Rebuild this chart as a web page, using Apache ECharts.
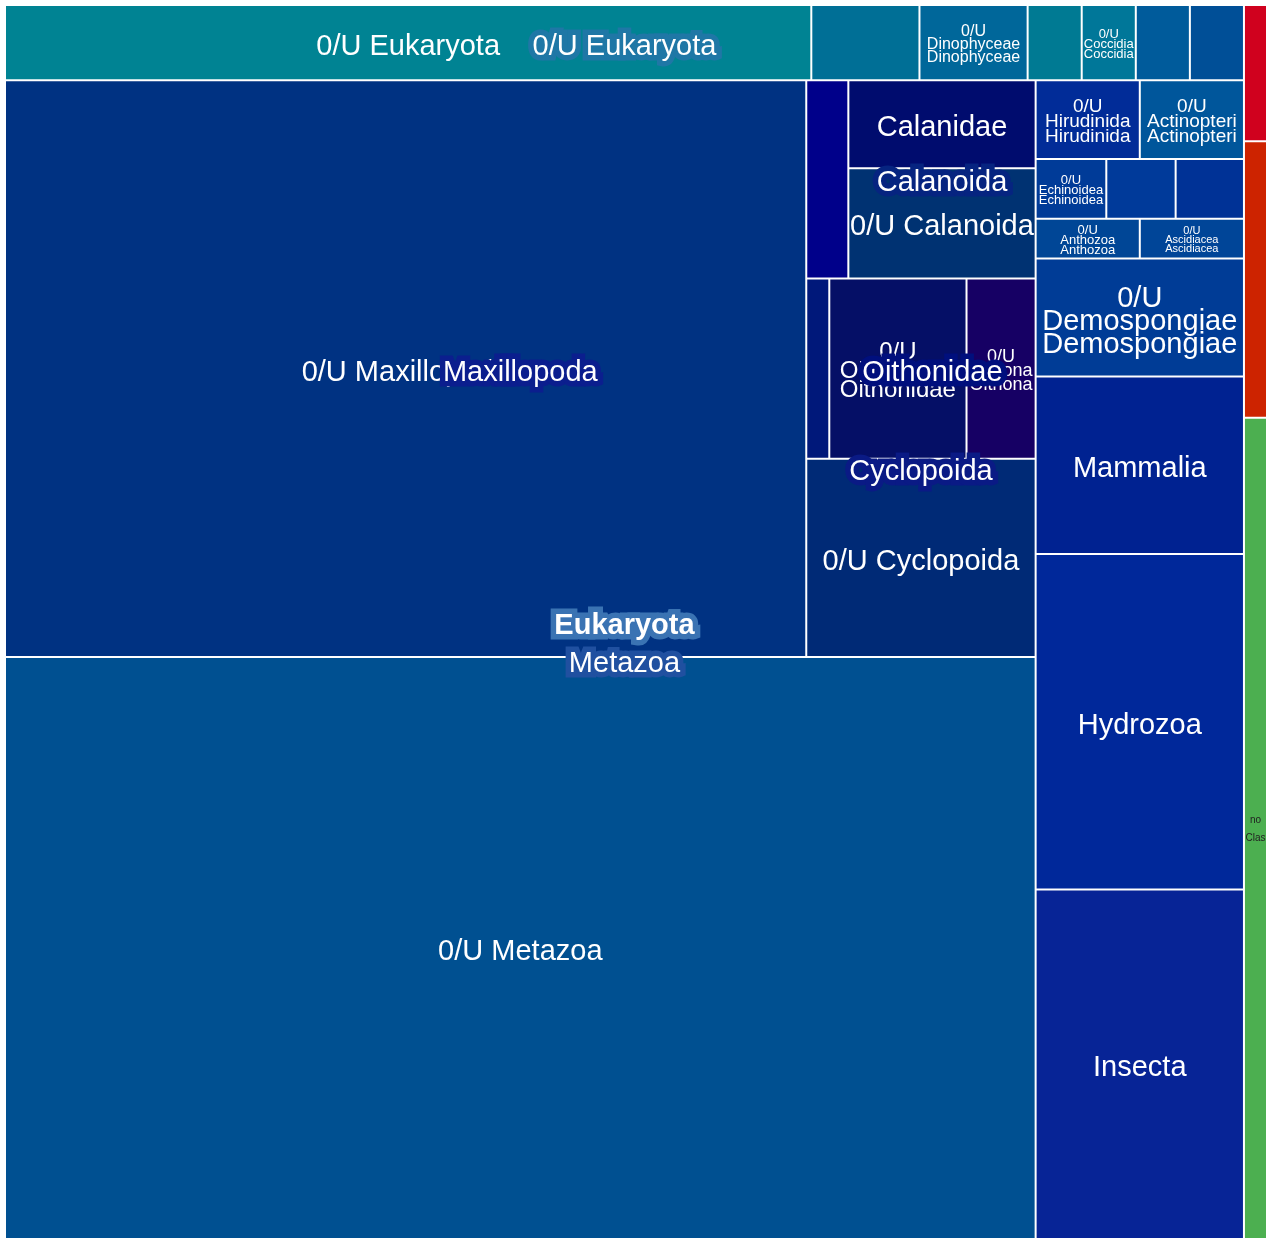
<!DOCTYPE html>
<html>
<head>
<meta charset="utf-8">
<title>Taxonomy treemap</title>
<script src="https://cdn.jsdelivr.net/npm/echarts@6/dist/echarts.min.js"></script>
<style>
  html, body { margin: 0; padding: 0; background: #fff; }
  #chart { width: 1266px; height: 1238px; }
</style>
</head>
<body>
<div id="chart"></div>
<script>
// each group keeps its children in display order, the treemap is not sorted
var kingdomNames = ["Eukaryota", "Bacteria", "Archaea", "no Classification"];
var kingdomValues = [null, 313, 635, 1886];

var eukaryotaNames = ["0/U Eukaryota", "Metazoa"];
var eukaryotaValues = [null, null];

var otherEukNames = ["0/U Eukaryota", "Other A", "Dinophyceae", "Other B", "Coccidia", "Other C", "Other D"];
var otherEukValues = [6038, 810, 810, 405, 405, 405, 405];

var metazoaNames = ["Maxillopoda", "0/U Metazoa", "Hirudinida", "Actinopteri", "Echinoidea", "Other E", "Other F",
  "Anthozoa", "Ascidiacea", "Demospongiae", "Mammalia", "Hydrozoa", "Insecta"];
var metazoaValues = [null, 59785, 819, 819, 421, 413, 407, 412, 412, 2454, 3682, 6968, 7259];

var maxillopodaNames = ["0/U Maxillopoda", "Other G", "Calanoida", "Cyclopoida"];
var maxillopodaValues = [46080, 832, null, null];

var calanoidaNames = ["Calanidae", "0/U Calanoida"];
var calanoidaValues = [1646, 2057];

var cyclopoidaNames = ["Other H", "Oithonidae", "0/U Cyclopoida"];
var cyclopoidaValues = [414, null, 4534];

var oithonidaeNames = ["0/U Oithonidae", "Oithona"];
var oithonidaeValues = [2466, 1242];

// taxa that only hold unresolved ("0/U") records
var unresolvedTaxa = ["Dinophyceae", "Coccidia", "Hirudinida", "Actinopteri", "Echinoidea",
  "Anthozoa", "Ascidiacea", "Demospongiae", "Oithona"];

var groups = {
  "Eukaryota": [eukaryotaNames, eukaryotaValues],
  "0/U Eukaryota": [otherEukNames, otherEukValues],
  "Metazoa": [metazoaNames, metazoaValues],
  "Maxillopoda": [maxillopodaNames, maxillopodaValues],
  "Calanoida": [calanoidaNames, calanoidaValues],
  "Cyclopoida": [cyclopoidaNames, cyclopoidaValues],
  "Oithonidae": [oithonidaeNames, oithonidaeValues]
};

// styles
var leafColors = {
  "0/U Eukaryota": "#008393", "Other A": "#006f96", "0/U Dinophyceae": "#00679a", "Other B": "#007a93",
  "0/U Coccidia": "#007799", "Other C": "#005b9b", "Other D": "#004f97",
  "0/U Maxillopoda": "#003282", "Other G": "#00008a", "Calanidae": "#000c6e", "0/U Calanoida": "#003272",
  "Other H": "#00187a", "0/U Oithonidae": "#050f66", "0/U Oithona": "#160064", "0/U Cyclopoida": "#002a76",
  "0/U Metazoa": "#005091", "0/U Hirudinida": "#012c98", "0/U Actinopteri": "#00569b",
  "0/U Echinoidea": "#003b98", "Other E": "#003a9a", "Other F": "#003296", "0/U Anthozoa": "#004696",
  "0/U Ascidiacea": "#004598", "0/U Demospongiae": "#003c96", "Mammalia": "#002291",
  "Hydrozoa": "#00289a", "Insecta": "#072496",
  "Bacteria": "#d0011e", "Archaea": "#cd2300", "no Classification": "#4caf50"
};
var labelSizes = {
  "0/U Dinophyceae": 16, "0/U Coccidia": 13, "0/U Hirudinida": 19, "0/U Echinoidea": 13,
  "0/U Actinopteri": 19, "0/U Anthozoa": 13, "0/U Ascidiacea": 11, "0/U Demospongiae": 29,
  "0/U Oithonidae": 24, "0/U Oithona": 18, "no Classification": 10
};
var stackedLabels = ["0/U Dinophyceae", "0/U Coccidia", "0/U Hirudinida", "0/U Echinoidea", "0/U Actinopteri",
  "0/U Anthozoa", "0/U Ascidiacea", "0/U Demospongiae", "0/U Oithonidae", "0/U Oithona"];
var hiddenLabels = ["Other A", "Other B", "Other C", "Other D", "Other E", "Other F", "Other G", "Other H",
  "Bacteria", "Archaea"];
var parentLabelBg = {
  "Eukaryota": "#3a73b3", "0/U Eukaryota": "#1f77a6", "Metazoa": "#2050a0", "Maxillopoda": "#0b1e8e",
  "Calanoida": "#062480", "Cyclopoida": "#0a1a85", "Oithonidae": "#000f7d"
};
var font = "'Liberation Sans', Arial, sans-serif";

function build(name, value) {
  if (value == null) {
    var g = groups[name];
    return { name: name, children: g[0].map(function(n, i) { return build(n, g[1][i]); }) };
  }
  if (unresolvedTaxa.indexOf(name) >= 0) {
    return { name: name, children: [{ name: "0/U " + name, value: value }] };
  }
  return { name: name, value: value };
}

function total(node) {
  if (!node.children) return node.value;
  return node.children.reduce(function(s, c) { return s + total(c); }, 0);
}

function styleBase(node) {
  if (node.children) {
    return { name: node.name, children: node.children.map(styleBase) };
  }
  var size = labelSizes[node.name] || 29;
  var stacked = stackedLabels.indexOf(node.name) >= 0;
  var label = {
    show: hiddenLabels.indexOf(node.name) < 0,
    fontSize: size,
    lineHeight: stacked ? Math.round(size * 0.8) : size + 4,
    offset: [0, Math.round(size * 0.13)]
  };
  if (node.name === "no Classification") {
    label.color = "#222";
    label.overflow = "truncate";
    label.ellipsis = "";
    label.lineHeight = 18;
  }
  return { name: node.name, value: node.value, itemStyle: { color: leafColors[node.name] }, label: label };
}

// copy of the tree cut at one depth, used to put parent names at parent centres
function prune(node, depth, target) {
  var copy = { name: node.name, value: total(node), itemStyle: { color: "rgba(0,0,0,0)" }, label: { show: false } };
  if (node.children) {
    if (depth < target) {
      copy.children = node.children.map(function(c) { return prune(c, depth + 1, target); });
    } else if (parentLabelBg[node.name]) {
      copy.label = {
        show: true,
        fontWeight: node.name === "Eukaryota" ? "bold" : "normal",
        textBorderColor: parentLabelBg[node.name],
        textBorderWidth: 11
      };
    }
  }
  return copy;
}

function leafText(p) {
  var name = p.name;
  if (name === "no Classification") return "no\nClassification";
  if (stackedLabels.indexOf(name) >= 0) {
    var base = name.replace("0/U ", "");
    return "0/U\n" + base + "\n" + base;
  }
  return name;
}

var tree = kingdomNames.map(function(n, i) { return build(n, kingdomValues[i]); });

function levels(border) {
  var out = [];
  for (var i = 0; i < 9; i++) {
    out.push({ itemStyle: { borderWidth: 0, gapWidth: 2, borderColor: border } });
  }
  return out;
}

var common = {
  type: "treemap",
  left: 6, top: 6, width: 1260, height: 1232,
  sort: false,
  squareRatio: 1.03,
  roam: false,
  nodeClick: false,
  breadcrumb: { show: false },
  upperLabel: { show: false }
};

var series = [Object.assign({}, common, {
  z: 2,
  levels: levels("#fff"),
  label: {
    show: true, position: "inside", padding: 0, overflow: "none",
    color: "#fff", fontFamily: font, fontSize: 29, formatter: leafText
  },
  data: tree.map(styleBase)
})];

for (var d = 1; d <= 5; d++) {
  series.push(Object.assign({}, common, {
    z: 10 + d,
    silent: true,
    levels: levels("rgba(0,0,0,0)"),
    itemStyle: { borderColor: "rgba(0,0,0,0)", color: "rgba(0,0,0,0)" },
    label: {
      show: true, position: "inside", padding: 0, overflow: "none",
      color: "#fff", fontFamily: font, fontSize: 29, lineHeight: 33, offset: [0, 4]
    },
    data: tree.map(function(n) { return prune(n, 1, d); })
  }));
}

var chart = echarts.init(document.getElementById("chart"));
chart.setOption({ animation: false, series: series });
</script>
</body>
</html>
